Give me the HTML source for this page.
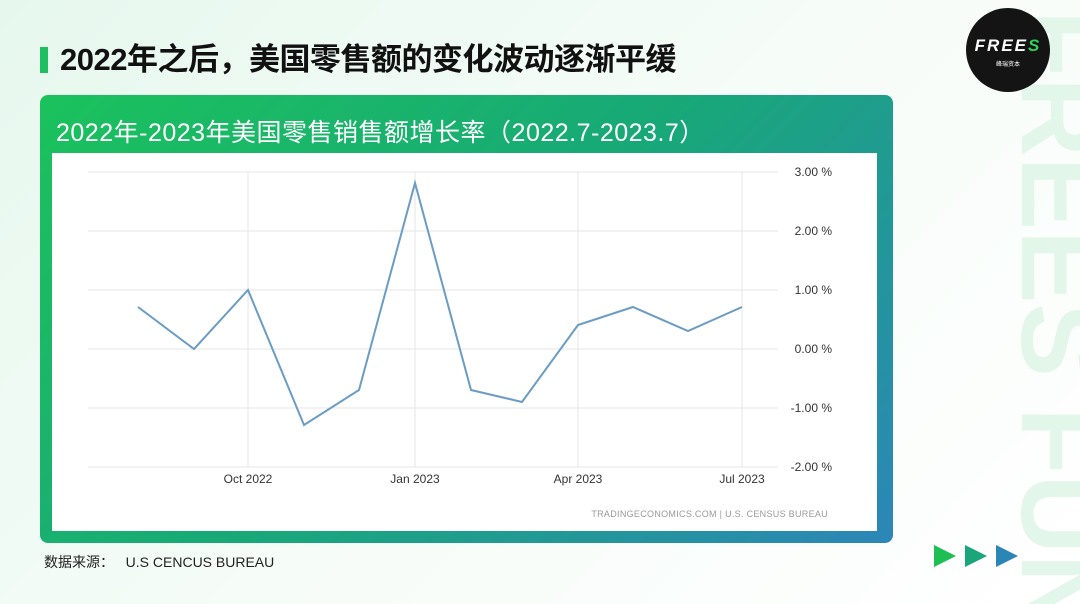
<!DOCTYPE html>
<html><head><meta charset="utf-8"><style>
html,body{margin:0;width:1080px;height:604px;overflow:hidden}
body{background:linear-gradient(135deg,#e6f8ee 0%,#f6fcf8 50%,#ffffff 100%);font-family:"Liberation Sans","Noto Sans CJK SC",sans-serif;position:relative}
.wm{position:absolute;left:1000px;top:0;width:80px;height:604px;overflow:hidden}
.title{position:absolute;left:40px;top:34px;font-size:31px;font-weight:bold;color:#111;letter-spacing:-0.5px;white-space:nowrap}
.title:before{content:"";display:inline-block;width:8px;height:26px;background:#1dbf60;margin-right:12px;vertical-align:-3px}
.logo{position:absolute;left:966px;top:8px;width:84px;height:84px;border-radius:50%;background:#141414;color:#fff;text-align:center}
.panel{position:absolute;left:40px;top:95px;width:853px;height:448px;border-radius:8px;background:linear-gradient(135deg,#1bc25c 0%,#18a878 50%,#2c86b8 100%)}
.ptitle{position:absolute;left:16px;top:18px;font-size:25px;color:#fff;letter-spacing:0.5px;white-space:nowrap}
.inner{position:absolute;left:12px;top:58px;width:825px;height:378px;background:#fff}
.src{position:absolute;left:44px;top:552px;font-size:14px;color:#222}
</style></head><body>
<div class="wm"><svg width="80" height="604" viewBox="0 0 80 604"><text x="0" y="0" transform="translate(22,10) rotate(90)" font-family="Liberation Sans" font-weight="bold" font-size="110" fill="#e3f6ea">FREES FUND</text></svg></div>
<div class="title">2022年之后，美国零售额的变化波动逐渐平缓</div>
<div class="logo"><div style="margin-top:28px;font-weight:bold;font-style:italic;font-size:17px;letter-spacing:2px">FREE<span style="color:#2fd35a">S</span></div><div style="font-size:6px;margin-top:3px">峰瑞资本</div></div>
<div class="panel"><div class="ptitle">2022年-2023年美国零售销售额增长率（2022.7-2023.7）</div><div class="inner"></div></div>
<svg style="position:absolute;left:0;top:0" width="1080" height="604">
<g stroke="#e6e6e6" stroke-width="1">
<line x1="88" x2="778" y1="172" y2="172"/><line x1="88" x2="778" y1="231" y2="231"/><line x1="88" x2="778" y1="290" y2="290"/><line x1="88" x2="778" y1="349" y2="349"/><line x1="88" x2="778" y1="408" y2="408"/><line x1="88" x2="778" y1="467" y2="467"/>
<line x1="248" x2="248" y1="172" y2="467"/><line x1="415" x2="415" y1="172" y2="467"/><line x1="578" x2="578" y1="172" y2="467"/><line x1="742" x2="742" y1="172" y2="467"/>
</g>
<polyline fill="none" stroke="#6a9cc4" stroke-width="2" points="138,307 194,349 248,290 304,425 359,390 415,183 471,390 522,402 578,325 633,307 688,331 742,307"/>
<g font-family="Liberation Sans" font-size="12" fill="#333" text-anchor="end">
<text x="832" y="176">3.00 %</text><text x="832" y="235">2.00 %</text><text x="832" y="294">1.00 %</text><text x="832" y="353">0.00 %</text><text x="832" y="412">-1.00 %</text><text x="832" y="471">-2.00 %</text></g>
<g font-family="Liberation Sans" font-size="12" fill="#333" text-anchor="middle">
<text x="248" y="483">Oct 2022</text><text x="415" y="483">Jan 2023</text><text x="578" y="483">Apr 2023</text><text x="742" y="483">Jul 2023</text></g>
<text x="828" y="517" text-anchor="end" font-family="Liberation Sans" font-size="9" fill="#999" letter-spacing="0.3">TRADINGECONOMICS.COM  |  U.S. CENSUS BUREAU</text>
<polygon points="934,545 956,556 934,567" fill="#1dbf55"/><polygon points="965,545 987,556 965,567" fill="#1aa57a"/><polygon points="996,545 1018,556 996,567" fill="#2a86b5"/>
</svg>
<div class="src">数据来源：&nbsp;&nbsp;&nbsp;U.S CENCUS BUREAU</div>
</body></html>
